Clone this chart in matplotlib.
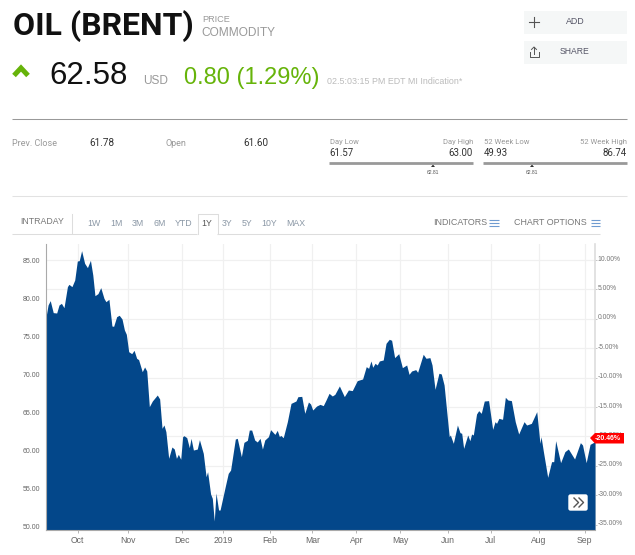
import matplotlib
matplotlib.use('Agg')
from matplotlib import pyplot as plt
from matplotlib.patches import Polygon, Rectangle, FancyBboxPatch
from matplotlib.transforms import ScaledTranslation

session = [0, 1.2, 2.2, 3.6, 5.2, 6.3, 7.4, 8.6, 10.2, 10.9, 12.3, 13.6, 14.8, 15.7, 16.8, 18.2, 19.5, 20.9, 22.0, 23.0,
           24.4, 25.7, 27.2, 28.1, 29.5, 30.9, 31.7, 33.1, 34.3, 35.6, 36.7, 37.6, 38.7, 40.1, 41.2, 42.4, 43.3, 45.0, 46.1, 47.1,
           48.3, 49.7, 52.0, 53.1, 54.2, 55.1, 56.0, 57.3, 58.8, 59.9, 60.9, 61.8, 62.9, 63.8, 64.4,
           65.7, 66.9, 67.7, 68.8, 70.6, 71.6, 73.4, 74.7, 75.4, 76.8, 77.6, 78.5, 79.3, 80.5, 81.2, 83.6, 85.0, 86.1, 88.3, 89.2,
           91.1, 92.3, 93.9, 94.8, 95.9, 97.3, 98.5, 99.8, 100.9, 102.0, 103.7, 104.7, 106.7, 107.8, 108.8, 109.4, 110.6, 112.5, 114.2, 116.5,
           117.4, 119.2, 120.6, 122.3, 123.3, 124.3, 126.1, 127.7,
           129.2, 130.5, 131.9, 133.4, 134.6, 136.7, 139.0, 140.9, 142.7, 145.0, 147.5, 149.2, 150.3, 151.4, 152.2, 153.3, 154.3, 155.3, 157.1, 158.4,
           159.9, 161.0, 162.4, 164.3, 166.0, 168.0, 169.1, 170.3, 172.2, 173.1, 175.7, 177.0, 178.8, 179.8, 181.2, 183.0, 184.1, 185.4, 187.4,
           187.8, 188.3, 189.7, 191.6, 192.8, 193.6, 194.5, 196.4, 197.4, 198.2, 199.0, 200.5, 201.5, 202.7, 204.1, 206.1, 208.0, 209.1, 209.8, 210.9,
           212.6, 213.9, 215.1, 216.7, 218.5, 220.1, 222.6, 223.8, 226.0, 228.5, 230.0, 230.5, 231.6, 233.6, 235.4, 236.4, 237.3, 239.6, 241.6, 243.2,
           246.1, 248.8, 249.8, 251.5, 253.3, 255.6]
price = [77.17, 79.15, 79.72, 78.14, 78.09, 79.15, 79.36, 78.79, 81.56, 81.86, 81.56, 82.43, 84.93, 84.98, 86.29, 84.63, 84.06, 85.02, 83.09, 80.37,
         80.64, 81.43, 80.02, 79.58, 79.89, 76.38, 76.34, 77.61, 77.79, 77.30, 75.86, 75.29, 73.00, 72.74, 73.18, 72.13, 71.96, 70.37, 70.99, 70.46,
         65.77, 66.51, 67.30, 66.78, 62.92, 63.36, 62.48, 58.97, 60.46, 60.20, 58.97, 59.50, 58.84, 61.82, 61.95,
         61.69, 60.37, 61.60, 60.06, 60.19, 61.42, 59.62, 56.55, 57.21, 54.27, 53.70, 50.72, 54.41, 52.17, 52.17, 55.24, 56.99, 57.43, 61.51, 61.60,
         59.19, 61.07, 61.34, 62.69, 62.69, 61.38, 61.12, 61.60, 60.19, 61.38, 61.82, 62.74, 62.12, 62.65, 61.82, 61.99, 61.69, 63.79, 66.20, 66.51,
         67.08, 67.12, 64.89, 66.38, 66.12, 65.33, 65.85, 66.07,
         65.90, 66.65, 67.52, 67.17, 67.39, 68.49, 67.09, 67.96, 67.88, 69.19, 69.41, 71.03, 70.81, 71.78, 70.95, 71.47, 71.25, 71.78, 71.91, 74.10,
         74.63, 74.50, 72.22, 72.74, 70.90, 71.25, 70.02, 70.46, 70.64, 70.29, 72.66, 72.13, 72.22, 71.25, 68.05, 70.16, 70.07, 68.62, 62.92,
         61.82, 62.04, 60.94, 63.35, 62.35, 62.26, 60.28, 62.04, 61.29, 62.17, 62.04, 64.80, 65.24, 64.89, 66.51, 66.56, 62.78, 63.79, 63.57, 64.23,
         64.10, 67.00, 66.64, 66.56, 63.79, 62.17, 63.79, 63.35, 63.57, 65.11, 60.94, 61.82, 59.85, 56.47, 58.53, 58.53, 61.29, 58.40, 59.85, 60.20,
         58.88, 61.03, 60.72, 58.40, 60.81, 61.16]

month_pos = [14.9, 38.4, 63.5, 82.7, 104.5, 124.1, 144.6, 164.9, 187.2, 207.1, 229.4, 250.9]
month_labels = ['Oct', 'Nov', 'Dec', '2019', 'Feb', 'Mar', 'Apr', 'May', 'Jun', 'Jul', 'Aug', 'Sep']
price_ticks = [50, 55, 60, 65, 70, 75, 80, 85]
pct_ticks = [10, 5, 0, -5, -10, -15, -20, -25, -30, -35]

BLUE = '#03478a'
W, H = 635, 555
L, R, T, B = 45.5, 595, 244, 530
CONDENSED = ['Roboto']
SANS = ['Liberation Sans']

fig = plt.figure(figsize=(W / 100, H / 100), dpi=100)
rect = [L / W, 1 - B / H, (R - L) / W, (B - T) / H]

# percent axis sits behind, the gridlines follow it
ax2 = fig.add_axes(rect, zorder=1)
ax2.set_xlim(0, 255.6)
ax2.set_ylim(-35.9, 12.72)
ax2.set_xticks(month_pos)
ax2.set_xticklabels([])
ax2.tick_params(axis='x', length=0)
ax2.yaxis.tick_right()
ax2.set_yticks(pct_ticks)
ax2.set_yticklabels(['%.2f%%' % p for p in pct_ticks], family=SANS, fontsize=4.9, color='#777777')
ax2.tick_params(axis='y', length=1.5, width=0.6, color='#bbbbbb', pad=0.5)
for lab in ax2.get_yticklabels():
    lab.set_transform(lab.get_transform() + ScaledTranslation(0, 2 / 100, fig.dpi_scale_trans))
ax2.grid(True, color='#f0f0f0', lw=0.9)
ax2.set_axisbelow(True)
for s in ['top', 'left', 'bottom']:
    ax2.spines[s].set_visible(False)
ax2.spines['right'].set_color('#dddddd')
ax2.spines['right'].set_linewidth(1.2)

ax = fig.add_axes(rect, zorder=2)
ax.patch.set_visible(False)
ax.set_xlim(0, 255.6)
ax.set_ylim(49.54, 87.17)
ax.fill_between(session, price, 49.54, color=BLUE, lw=0)
ax.set_xticks(month_pos)
ax.set_xticklabels(month_labels, family=SANS, fontsize=6.2, color='#666666')
ax.set_yticks(price_ticks)
ax.set_yticklabels(['%.2f' % p for p in price_ticks], family=SANS, fontsize=5, color='#666666')
ax.tick_params(axis='y', length=0, pad=4)
ax.tick_params(axis='x', length=2, width=0.6, color='#aaaaaa', pad=2.5)
for s in ['top', 'right']:
    ax.spines[s].set_visible(False)
ax.spines['left'].set_color('#aaaaaa')
ax.spines['bottom'].set_color('#aaaaaa')

# page furniture, in pixel coordinates
ov = fig.add_axes([0, 0, 1, 1], zorder=5)
ov.set_xlim(0, W)
ov.set_ylim(H, 0)
ov.axis('off')

def txt(x, y, s, size, color='#999999', family=SANS, ha='left', **kw):
    ov.text(x, y, s, fontsize=size, color=color, family=family, ha=ha, va='center', **kw)

def hline(x0, x1, y, color, lw=0.75):
    ov.plot([x0, x1], [y, y], color=color, lw=lw, solid_capstyle='butt')

txt(13, 26, 'OIL (BRENT)', 23, color='#111111', family=['Roboto'], weight='bold')
txt(202, 20, 'PRICE', 6.6)
txt(201, 32.5, 'COMMODITY', 8.6)
ov.plot([14, 21, 28], [75.5, 68, 75.5], color='#66b30a', lw=3.6, solid_joinstyle='miter', solid_capstyle='butt')
txt(49, 76.5, '62.58', 22.5, color='#111111')
txt(143, 80.5, 'USD', 8.6)
txt(184, 78, '0.80 (1.29%)', 17, color='#66b40a')
txt(327, 81.5, '02.5:03:15 PM EDT MI Indication*', 6.4, color='#bbbbbb')

hline(12, 627, 119, '#999999')
hline(12, 627, 196, '#e2e2e2')

txt(12, 143, 'Prev. Close', 6.5, family=CONDENSED)
txt(89, 143, '61.78', 7.2, color='#333333', family=CONDENSED)
txt(166, 143, 'Open', 6.5, family=CONDENSED)
txt(243, 143, '61.60', 7.2, color='#333333', family=CONDENSED)

for x0, x1, low_name, high_name, low, high, mark in [
        (329, 473, 'Day Low', 'Day High', '61.57', '63.00', 433),
        (483, 627, '52 Week Low', '52 Week High', '49.93', '86.74', 532)]:
    txt(x0 + 0.5, 142, low_name, 5.5, family=CONDENSED)
    txt(x1, 142, high_name, 5.5, family=CONDENSED, ha='right')
    txt(x0 + 0.5, 153.5, low, 6.9, color='#333333', family=CONDENSED)
    txt(x1, 153.5, high, 6.9, color='#333333', family=CONDENSED, ha='right')
    hline(x0, x1, 162.5, '#999999', lw=2)
    ov.add_patch(Polygon([[mark - 2, 167], [mark, 164.5], [mark + 2, 167]], color='#333333', lw=0))
    txt(mark, 172, '62.81', 3.6, color='#555555', ha='center')

for y0, label, size in [(11, 'ADD', 6.4), (41, 'SHARE', 6.2)]:
    ov.add_patch(Rectangle((524, y0), 103, 23, color='#f5f7f7', lw=0))
    txt(575, y0 + 11, label, size, color='#555566', ha='center')
ov.plot([529, 539], [22, 22], color='#555555', lw=0.8)
ov.plot([534, 534], [17, 27], color='#555555', lw=0.8)
ov.plot([529.5, 529.5, 538.5, 538.5], [52, 57, 57, 52], color='#555555', lw=0.7)
ov.plot([534, 534], [47, 54], color='#555555', lw=0.7)
ov.plot([531.5, 534, 536.5], [49.5, 47, 49.5], color='#555555', lw=0.7)

# range tabs
TAB = '#8a97a5'
hline(12, 197, 233.5, '#dddddd')
hline(217, 600, 233.5, '#dddddd')
ov.plot([72, 72], [214, 233], color='#dddddd', lw=0.75)
ov.plot([197.5, 197.5, 217.5, 217.5], [233.5, 214, 214, 233.5], color='#dddddd', lw=0.75)
txt(42, 222, 'INTRADAY', 6.3, color='#777777', ha='center')
for cx, label in [(94, '1W'), (116, '1M'), (138, '3M'), (160, '6M'), (184, 'YTD'), (207, '1Y'),
                  (227, '3Y'), (247, '5Y'), (269, '10Y'), (296, 'MAX')]:
    txt(cx, 223, label, 6.3, color='#555555' if label == '1Y' else TAB, ha='center')
txt(460, 222.5, 'INDICATORS', 6.4, color='#777777', ha='center')
txt(550.5, 222.5, 'CHART OPTIONS', 6.4, color='#777777', ha='center')
for x0 in [489, 590.5]:
    for y in [219.5, 222.5, 225.5]:
        hline(x0, x0 + 9.5, y, '#6f9bd0', lw=0.8)

# last value tag and the scroll button
ov.add_patch(Polygon([[590, 438], [595, 433], [624, 433], [624, 443.5], [595, 443.5]], color='#ff0000', lw=0))
txt(607.5, 438.5, '-20.46%', 5, color='white', ha='center', weight='bold')
ov.add_patch(FancyBboxPatch((569, 495), 18, 15, boxstyle='round,pad=0,rounding_size=1.5', fc='white', ec='white', lw=1))
ov.plot([574, 578.5, 574], [498, 502.5, 507], color='#555555', lw=1)
ov.plot([579, 583.5, 579], [498, 502.5, 507], color='#555555', lw=1)

fig.savefig('out.png', dpi=100)
